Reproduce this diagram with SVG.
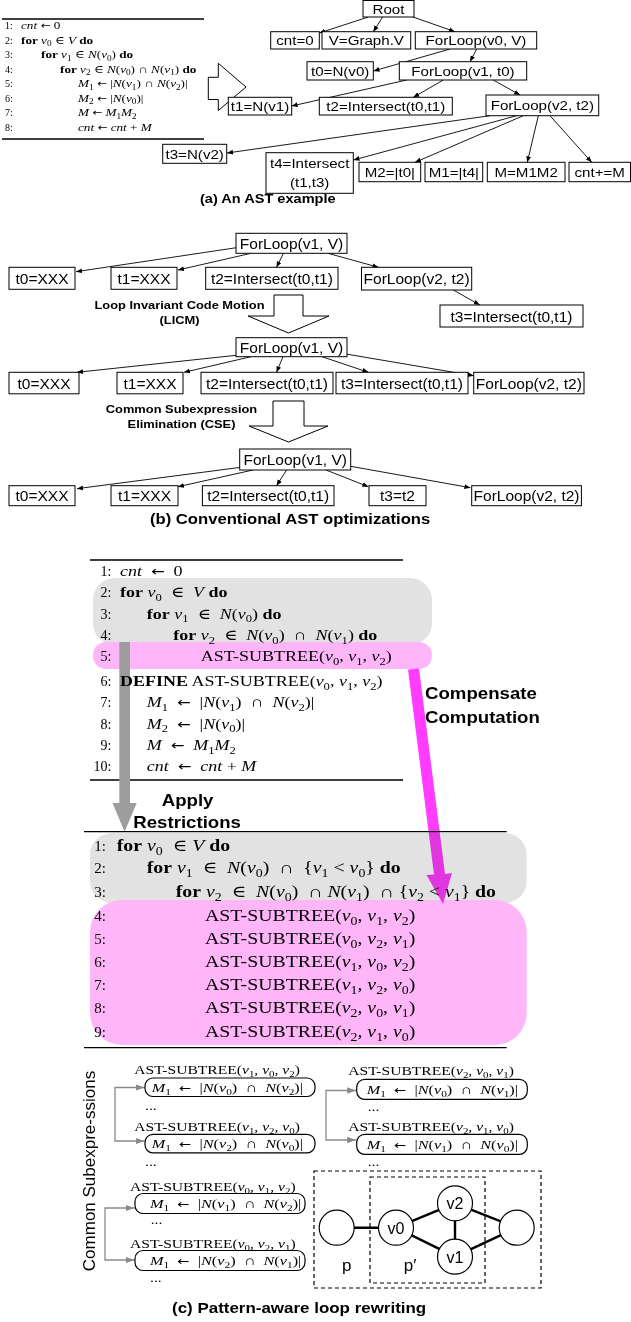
<svg xmlns="http://www.w3.org/2000/svg" width="631" height="1322" viewBox="0 0 631 1322">
<defs>
<style>
.box{fill:#fff;stroke:#000;stroke-width:1}
.na{font-family:"Liberation Sans",Arial,sans-serif;font-size:13.5px;text-anchor:middle;fill:#000}
.nb{font-family:"Liberation Sans",Arial,sans-serif;font-size:15.5px;text-anchor:middle;fill:#000}
.sans{font-family:"Liberation Sans",Arial,sans-serif;fill:#000}
.bold{font-weight:bold}
.alg{font-family:"Liberation Serif","DejaVu Serif",serif;fill:#000}
.i{font-style:italic}
.b{font-weight:bold}
.s{font-size:70%}
.ar{font-family:"DejaVu Sans",sans-serif;font-style:normal;font-size:90%}
.e{stroke:#000;stroke-width:0.9;fill:none;marker-end:url(#ah)}
.eg{stroke:#8a8a8a;stroke-width:1.3;fill:none;marker-end:url(#ahg)}
.hollow{fill:#fff;stroke:#000;stroke-width:1}
.rule{stroke:#000;stroke-width:1.3}
.rb{fill:#fff;stroke:#000;stroke-width:1.2}
.dash{fill:none;stroke:#000;stroke-width:1.2;stroke-dasharray:4 3}
.ge{stroke:#000;stroke-width:2.4}
.circ{fill:#fff;stroke:#000;stroke-width:1.2}
.gray{fill:#e2e2e2}
.pink{fill:#ffb6f9}
</style>
<marker id="ah" viewBox="0 0 10 10" refX="10" refY="5" markerWidth="6" markerHeight="6" markerUnits="userSpaceOnUse" orient="auto"><path d="M0,1 L10,5 L0,9 z" fill="#000"/></marker>
<marker id="ahg" viewBox="0 0 10 10" refX="10" refY="5" markerWidth="9" markerHeight="9" markerUnits="userSpaceOnUse" orient="auto"><path d="M0,1.5 L10,5 L0,8.5 z" fill="#8a8a8a"/></marker>
</defs>
<rect width="631" height="1322" fill="#fff"/>

<!-- (a) algorithm -->
<g id="algo-a">
<line class="rule" x1="2" y1="19" x2="204" y2="19" stroke="#555"/>
<line class="rule" x1="2" y1="139" x2="204" y2="139"/>
<g class="alg" font-size="10">
<text x="5" y="29">1:</text><text x="5" y="43.5">2:</text><text x="5" y="58">3:</text><text x="5" y="72.5">4:</text><text x="5" y="87">5:</text><text x="5" y="101.5">6:</text><text x="5" y="116">7:</text><text x="5" y="130.5">8:</text>
</g>
<g class="alg" font-size="11">
<text transform="translate(21,29) scale(1.2,1)"><tspan class="i">cnt</tspan> <tspan class="ar">←</tspan> 0</text>
<text transform="translate(21,43.5) scale(1.2,1)"><tspan class="b">for</tspan> <tspan class="i">v</tspan><tspan class="s" dy="2.5">0</tspan><tspan dy="-2.5"> ∈ </tspan><tspan class="i">V</tspan> <tspan class="b">do</tspan></text>
<text transform="translate(41,58) scale(1.2,1)"><tspan class="b">for</tspan> <tspan class="i">v</tspan><tspan class="s" dy="2.5">1</tspan><tspan dy="-2.5"> ∈ </tspan><tspan class="i">N</tspan>(<tspan class="i">v</tspan><tspan class="s" dy="2.5">0</tspan><tspan dy="-2.5">) </tspan><tspan class="b">do</tspan></text>
<text transform="translate(60,72.5) scale(1.2,1)"><tspan class="b">for</tspan> <tspan class="i">v</tspan><tspan class="s" dy="2.5">2</tspan><tspan dy="-2.5"> ∈ </tspan><tspan class="i">N</tspan>(<tspan class="i">v</tspan><tspan class="s" dy="2.5">0</tspan><tspan dy="-2.5">) ∩ </tspan><tspan class="i">N</tspan>(<tspan class="i">v</tspan><tspan class="s" dy="2.5">1</tspan><tspan dy="-2.5">) </tspan><tspan class="b">do</tspan></text>
<text transform="translate(78,87) scale(1.2,1)"><tspan class="i">M</tspan><tspan class="s" dy="2.5">1</tspan><tspan dy="-2.5"> </tspan><tspan class="ar">←</tspan> |<tspan class="i">N</tspan>(<tspan class="i">v</tspan><tspan class="s" dy="2.5">1</tspan><tspan dy="-2.5">) ∩ </tspan><tspan class="i">N</tspan>(<tspan class="i">v</tspan><tspan class="s" dy="2.5">2</tspan><tspan dy="-2.5">)|</tspan></text>
<text transform="translate(78,101.5) scale(1.2,1)"><tspan class="i">M</tspan><tspan class="s" dy="2.5">2</tspan><tspan dy="-2.5"> </tspan><tspan class="ar">←</tspan> |<tspan class="i">N</tspan>(<tspan class="i">v</tspan><tspan class="s" dy="2.5">0</tspan><tspan dy="-2.5">)|</tspan></text>
<text transform="translate(78,116) scale(1.2,1)"><tspan class="i">M</tspan> <tspan class="ar">←</tspan> <tspan class="i">M</tspan><tspan class="s" dy="2.5">1</tspan><tspan class="i" dy="-2.5">M</tspan><tspan class="s" dy="2.5">2</tspan></text>
<text transform="translate(78,130.5) scale(1.2,1)"><tspan class="i">cnt</tspan> <tspan class="ar">←</tspan> <tspan class="i">cnt</tspan> + <tspan class="i">M</tspan></text>
</g>
<polygon class="hollow" points="208.3,77.3 218.3,77.3 218.3,63.3 246,87 218.3,110.5 218.3,99.5 208.3,99.5"/>
</g>

<!-- (c) backgrounds -->
<g id="highlights">
<rect class="gray" x="93" y="578" width="339" height="67" rx="22"/>
<rect class="pink" x="93" y="642" width="339" height="27" rx="13"/>
<rect class="gray" x="90" y="833" width="436.7" height="70" rx="22"/>
<rect class="pink" x="90" y="900" width="436.7" height="145" rx="32"/>
</g>

<g id="connectors">
<!-- (a) -->
<line class="e" x1="368.3" y1="17" x2="319.3" y2="33"/>
<line class="e" x1="382.7" y1="17" x2="373.3" y2="31.7"/>
<line class="e" x1="413" y1="17" x2="455" y2="31.7"/>
<line class="e" x1="450" y1="49" x2="373.5" y2="71"/>
<line class="e" x1="476.7" y1="49" x2="470" y2="61.7"/>
<line class="e" x1="406.7" y1="80" x2="291.7" y2="106"/>
<line class="e" x1="443.3" y1="80" x2="413.3" y2="97.3"/>
<line class="e" x1="493.3" y1="80" x2="520" y2="95"/>
<line class="e" x1="490" y1="115.7" x2="227" y2="153"/>
<line class="e" x1="516.7" y1="115.7" x2="353.5" y2="160"/>
<line class="e" x1="523.3" y1="115.7" x2="415" y2="162.3"/>
<line class="e" x1="538.3" y1="115.7" x2="527.3" y2="162.3"/>
<line class="e" x1="550" y1="115.7" x2="591.7" y2="162.3"/>
<!-- (b) tree 1 -->
<line class="e" x1="239" y1="247.3" x2="76" y2="271.7"/>
<line class="e" x1="251" y1="253.3" x2="178" y2="270"/>
<line class="e" x1="283.4" y1="253.3" x2="276.5" y2="267.3"/>
<line class="e" x1="328" y1="253.3" x2="378.5" y2="267.3"/>
<line class="e" x1="453.4" y1="290" x2="479.8" y2="305"/>
<!-- (b) tree 2 -->
<line class="e" x1="239" y1="355" x2="77" y2="372.3"/>
<line class="e" x1="251" y1="356.7" x2="184" y2="372.3"/>
<line class="e" x1="283" y1="356.7" x2="276.5" y2="372.3"/>
<line class="e" x1="322" y1="356.7" x2="368.4" y2="372.3"/>
<line class="e" x1="346" y1="354" x2="473.7" y2="375.7"/>
<!-- (b) tree 3 -->
<line class="e" x1="243" y1="467" x2="77" y2="488.7"/>
<line class="e" x1="253" y1="470" x2="178" y2="486.7"/>
<line class="e" x1="286.6" y1="470" x2="276.5" y2="485.7"/>
<line class="e" x1="326" y1="470" x2="368.4" y2="486.7"/>
<line class="e" x1="349" y1="466" x2="470.4" y2="487.7"/>
<!-- (c) common subexpression links -->
<path class="eg" d="M115,1114 V1087.5 H144.5"/>
<path class="eg" d="M115,1114 V1141 H144.5"/>
<path class="eg" d="M105,1234 V1208 H134.5"/>
<path class="eg" d="M105,1234 V1260 H134.5"/>
<path class="eg" d="M326,1115 V1090.5 H356.2"/>
<path class="eg" d="M326,1115 V1140 H356.2"/>
</g>

<g id="nodes-a">
<g id="n-root"><rect class="box" x="363" y="0.5" width="51" height="16.5"/><text class="na" transform="translate(388.5,13.5) scale(1.12,1)">Root</text></g>
<g id="n-cnt0"><rect class="box" x="270.7" y="31.7" width="48.6" height="17.3"/><text class="na" transform="translate(295,45.2) scale(1.12,1)">cnt=0</text></g>
<g id="n-vgraph"><rect class="box" x="322" y="31.7" width="88.7" height="17.3"/><text class="na" transform="translate(366.35,45.2) scale(1.12,1)">V=Graph.V</text></g>
<g id="n-forv0"><rect class="box" x="415.3" y="31.7" width="121.4" height="17.3"/><text class="na" transform="translate(476,45.2) scale(1.12,1)">ForLoop(v0, V)</text></g>
<g id="n-t0"><rect class="box" x="307" y="61.7" width="66.3" height="18.3"/><text class="na" transform="translate(340.15,75.7) scale(1.12,1)">t0=N(v0)</text></g>
<g id="n-forv1"><rect class="box" x="399.3" y="61.7" width="127.4" height="18.3"/><text class="na" transform="translate(463,75.7) scale(1.12,1)">ForLoop(v1, t0)</text></g>
<g id="n-t1"><rect class="box" x="228.3" y="97.3" width="63.4" height="17.7"/><text class="na" transform="translate(260,111) scale(1.12,1)">t1=N(v1)</text></g>
<g id="n-t2"><rect class="box" x="319.3" y="97.3" width="133" height="17.7"/><text class="na" transform="translate(385.8,111) scale(1.12,1)">t2=Intersect(t0,t1)</text></g>
<g id="n-forv2"><rect class="box" x="486" y="95" width="112.7" height="20.7"/><text class="na" transform="translate(542.35,110.2) scale(1.12,1)">ForLoop(v2, t2)</text></g>
<g id="n-t3"><rect class="box" x="162.7" y="144.3" width="64" height="19"/><text class="na" transform="translate(194.7,158.7) scale(1.12,1)">t3=N(v2)</text></g>
<g id="n-t4"><rect class="box" x="266" y="152.7" width="87.3" height="40.6"/><text class="na" transform="translate(309.65,168) scale(1.12,1)">t4=Intersect</text><text class="na" transform="translate(309.65,186.5) scale(1.12,1)">(t1,t3)</text></g>
<g id="n-m2"><rect class="box" x="359" y="162.3" width="61.7" height="19.4"/><text class="na" transform="translate(389.85,176.9) scale(1.12,1)">M2=|t0|</text></g>
<g id="n-m1"><rect class="box" x="425" y="162.3" width="57.7" height="19.4"/><text class="na" transform="translate(453.85,176.9) scale(1.12,1)">M1=|t4|</text></g>
<g id="n-m"><rect class="box" x="487.3" y="162.3" width="77.7" height="19.4"/><text class="na" transform="translate(526.15,176.9) scale(1.12,1)">M=M1M2</text></g>
<g id="n-cntm"><rect class="box" x="569" y="162.3" width="61.5" height="19.4"/><text class="na" transform="translate(599.75,176.9) scale(1.12,1)">cnt+=M</text></g>
<text class="sans bold" font-size="13" transform="translate(200,203) scale(1.12,1)">(a) An AST example</text>
</g>

<g id="nodes-b">
<g id="b1-root"><rect class="box" x="236" y="233.3" width="111" height="20"/><text class="nb" x="291.5" y="248.9">ForLoop(v1, V)</text></g>
<g id="b1-t0"><rect class="box" x="9" y="267.3" width="66" height="22"/><text class="nb" x="42" y="283.9">t0=XXX</text></g>
<g id="b1-t1"><rect class="box" x="111" y="267.3" width="66" height="22"/><text class="nb" x="144" y="283.9">t1=XXX</text></g>
<g id="b1-t2"><rect class="box" x="205.7" y="267.3" width="132.3" height="22"/><text class="nb" x="271.85" y="283.9">t2=Intersect(t0,t1)</text></g>
<g id="b1-for"><rect class="box" x="361.5" y="267.3" width="110.2" height="22.7"/><text class="nb" x="416.6" y="283.9">ForLoop(v2, t2)</text></g>
<g id="b1-t3"><rect class="box" x="440" y="305" width="143" height="22"/><text class="nb" x="511.5" y="321.5">t3=Intersect(t0,t1)</text></g>

<g id="licm-arrow"><polygon class="hollow" points="274,295 303,295 303,316 329,316 288.5,333 248,316 274,316"/>
<text class="sans bold" font-size="11.5" text-anchor="middle" transform="translate(179.5,308.5) scale(1.12,1)">Loop Invariant Code Motion</text>
<text class="sans bold" font-size="11.5" text-anchor="middle" transform="translate(179.5,324) scale(1.12,1)">(LICM)</text></g>

<g id="b2-root"><rect class="box" x="236" y="337.7" width="111" height="19"/><text class="nb" x="291.5" y="352.8">ForLoop(v1, V)</text></g>
<g id="b2-t0"><rect class="box" x="9" y="372.3" width="70" height="21.5"/><text class="nb" x="44" y="388.6">t0=XXX</text></g>
<g id="b2-t1"><rect class="box" x="117" y="372.3" width="66" height="21.5"/><text class="nb" x="150" y="388.6">t1=XXX</text></g>
<g id="b2-t2"><rect class="box" x="201" y="372.3" width="132" height="21.5"/><text class="nb" x="267" y="388.6">t2=Intersect(t0,t1)</text></g>
<g id="b2-t3"><rect class="box" x="336" y="372.3" width="132" height="21.5"/><text class="nb" x="402" y="388.6">t3=Intersect(t0,t1)</text></g>
<g id="b2-for"><rect class="box" x="473.7" y="372.3" width="110.3" height="21.5"/><text class="nb" x="528.85" y="388.6">ForLoop(v2, t2)</text></g>

<g id="cse-arrow"><polygon class="hollow" points="273,401 304,401 304,426 328,426 288.5,442 249,426 273,426"/>
<text class="sans bold" font-size="11.5" text-anchor="middle" transform="translate(181.5,412.5) scale(1.12,1)">Common Subexpression</text>
<text class="sans bold" font-size="11.5" text-anchor="middle" transform="translate(181.5,427.5) scale(1.12,1)">Elimination (CSE)</text></g>

<g id="b3-root"><rect class="box" x="239.7" y="449" width="111" height="21"/><text class="nb" x="295.2" y="465">ForLoop(v1, V)</text></g>
<g id="b3-t0"><rect class="box" x="9" y="485.7" width="66" height="20"/><text class="nb" x="42" y="501.2">t0=XXX</text></g>
<g id="b3-t1"><rect class="box" x="111" y="485.7" width="67" height="20"/><text class="nb" x="144.5" y="501.2">t1=XXX</text></g>
<g id="b3-t2"><rect class="box" x="202.4" y="485.7" width="131.6" height="20"/><text class="nb" x="268.2" y="501.2">t2=Intersect(t0,t1)</text></g>
<g id="b3-t3"><rect class="box" x="369" y="485.7" width="57" height="20"/><text class="nb" x="397.5" y="501.2">t3=t2</text></g>
<g id="b3-for"><rect class="box" x="471.7" y="485.7" width="109.7" height="20"/><text class="nb" x="526.55" y="501.2">ForLoop(v2, t2)</text></g>
<text class="sans bold" font-size="15" transform="translate(150,524) scale(1.11,1)">(b) Conventional AST optimizations</text>
</g>

<!-- (c) algorithm 1 -->
<g id="algo-c1">
<line class="rule" x1="90" y1="560" x2="403" y2="560"/>
<line class="rule" x1="90" y1="780" x2="403" y2="780"/>
<polygon points="119.3,642 130,642 130,803 136.7,803 124.6,831.7 112.5,803 119.3,803" fill="#9d9d9d"/>
<g class="alg" font-size="14" text-anchor="end">
<text x="111.5" y="576">1:</text><text x="111.5" y="597">2:</text><text x="111.5" y="618.5">3:</text><text x="111.5" y="640">4:</text><text x="111.5" y="661">5:</text><text x="111.5" y="686">6:</text><text x="111.5" y="707">7:</text><text x="111.5" y="728.5">8:</text><text x="111.5" y="750">9:</text><text x="111.5" y="771">10:</text>
</g>
<g class="alg" font-size="15">
<text transform="translate(120,576) scale(1.2,1)"><tspan class="i">cnt</tspan> &#160;<tspan class="ar">←</tspan>&#160; 0</text>
<text transform="translate(120,597) scale(1.2,1)"><tspan class="b">for</tspan> <tspan class="i">v</tspan><tspan class="s" dy="3.5">0</tspan><tspan dy="-3.5"> &#160;∈&#160; </tspan><tspan class="i">V</tspan> <tspan class="b">do</tspan></text>
<text transform="translate(146.7,618.5) scale(1.2,1)"><tspan class="b">for</tspan> <tspan class="i">v</tspan><tspan class="s" dy="3.5">1</tspan><tspan dy="-3.5"> &#160;∈&#160; </tspan><tspan class="i">N</tspan>(<tspan class="i">v</tspan><tspan class="s" dy="3.5">0</tspan><tspan dy="-3.5">) </tspan><tspan class="b">do</tspan></text>
<text transform="translate(173.3,640) scale(1.2,1)"><tspan class="b">for</tspan> <tspan class="i">v</tspan><tspan class="s" dy="3.5">2</tspan><tspan dy="-3.5"> &#160;∈&#160; </tspan><tspan class="i">N</tspan>(<tspan class="i">v</tspan><tspan class="s" dy="3.5">0</tspan><tspan dy="-3.5">) &#160;∩&#160; </tspan><tspan class="i">N</tspan>(<tspan class="i">v</tspan><tspan class="s" dy="3.5">1</tspan><tspan dy="-3.5">) </tspan><tspan class="b">do</tspan></text>
<text transform="translate(200.7,661) scale(1.2,1)">AST-SUBTREE(<tspan class="i">v</tspan><tspan class="s" dy="3.5">0</tspan><tspan dy="-3.5">, </tspan><tspan class="i">v</tspan><tspan class="s" dy="3.5">1</tspan><tspan dy="-3.5">, </tspan><tspan class="i">v</tspan><tspan class="s" dy="3.5">2</tspan><tspan dy="-3.5">)</tspan></text>
<text transform="translate(120,686) scale(1.2,1)"><tspan class="b">DEFINE</tspan> AST-SUBTREE(<tspan class="i">v</tspan><tspan class="s" dy="3.5">0</tspan><tspan dy="-3.5">, </tspan><tspan class="i">v</tspan><tspan class="s" dy="3.5">1</tspan><tspan dy="-3.5">, </tspan><tspan class="i">v</tspan><tspan class="s" dy="3.5">2</tspan><tspan dy="-3.5">)</tspan></text>
<text transform="translate(146.7,707) scale(1.2,1)"><tspan class="i">M</tspan><tspan class="s" dy="3.5">1</tspan><tspan dy="-3.5"> &#160;</tspan><tspan class="ar">←</tspan>&#160; |<tspan class="i">N</tspan>(<tspan class="i">v</tspan><tspan class="s" dy="3.5">1</tspan><tspan dy="-3.5">) &#160;∩&#160; </tspan><tspan class="i">N</tspan>(<tspan class="i">v</tspan><tspan class="s" dy="3.5">2</tspan><tspan dy="-3.5">)|</tspan></text>
<text transform="translate(146.7,728.5) scale(1.2,1)"><tspan class="i">M</tspan><tspan class="s" dy="3.5">2</tspan><tspan dy="-3.5"> &#160;</tspan><tspan class="ar">←</tspan>&#160; |<tspan class="i">N</tspan>(<tspan class="i">v</tspan><tspan class="s" dy="3.5">0</tspan><tspan dy="-3.5">)|</tspan></text>
<text transform="translate(146.7,750) scale(1.2,1)"><tspan class="i">M</tspan> &#160;<tspan class="ar">←</tspan>&#160; <tspan class="i">M</tspan><tspan class="s" dy="3.5">1</tspan><tspan class="i" dy="-3.5">M</tspan><tspan class="s" dy="3.5">2</tspan></text>
<text transform="translate(146.7,771) scale(1.2,1)"><tspan class="i">cnt</tspan> &#160;<tspan class="ar">←</tspan>&#160; <tspan class="i">cnt</tspan> + <tspan class="i">M</tspan></text>
</g>
<text class="sans bold" font-size="16.5" transform="translate(161.7,806) scale(1.13,1)">Apply</text>
<text class="sans bold" font-size="16.5" transform="translate(133.3,828) scale(1.13,1)">Restrictions</text>
<text class="sans bold" font-size="16.5" transform="translate(425,699) scale(1.13,1)">Compensate</text>
<text class="sans bold" font-size="16.5" transform="translate(425,723) scale(1.13,1)">Computation</text>
</g>

<!-- (c) algorithm 2 -->
<g id="algo-c2">
<line class="rule" x1="84" y1="831.7" x2="506.7" y2="831.7" stroke-width="1.5"/>
<line class="rule" x1="84" y1="1047.7" x2="506.7" y2="1047.7" stroke="#555" stroke-width="2"/>
<g class="alg" font-size="15" text-anchor="end">
<text x="106" y="850.5">1:</text><text x="106" y="873">2:</text><text x="106" y="897">3:</text><text x="106" y="920.5">4:</text><text x="106" y="944">5:</text><text x="106" y="967">6:</text><text x="106" y="990">7:</text><text x="106" y="1013">8:</text><text x="106" y="1036.5">9:</text>
</g>
<g class="alg" font-size="16.5">
<text transform="translate(116.7,850.5) scale(1.2,1)"><tspan class="b">for</tspan> <tspan class="i">v</tspan><tspan class="s" dy="4">0</tspan><tspan dy="-4"> &#160;∈ </tspan><tspan class="i">V</tspan> <tspan class="b">do</tspan></text>
<text transform="translate(146.7,873) scale(1.2,1)"><tspan class="b">for</tspan> <tspan class="i">v</tspan><tspan class="s" dy="4">1</tspan><tspan dy="-4"> &#160;∈&#160; </tspan><tspan class="i">N</tspan>(<tspan class="i">v</tspan><tspan class="s" dy="4">0</tspan><tspan dy="-4">) &#160;∩&#160; {</tspan><tspan class="i">v</tspan><tspan class="s" dy="4">1</tspan><tspan dy="-4"> &lt; </tspan><tspan class="i">v</tspan><tspan class="s" dy="4">0</tspan><tspan dy="-4">} </tspan><tspan class="b">do</tspan></text>
<text transform="translate(175.7,897) scale(1.2,1)"><tspan class="b">for</tspan> <tspan class="i">v</tspan><tspan class="s" dy="4">2</tspan><tspan dy="-4"> &#160;∈&#160; </tspan><tspan class="i">N</tspan>(<tspan class="i">v</tspan><tspan class="s" dy="4">0</tspan><tspan dy="-4">) &#160;∩ </tspan><tspan class="i">N</tspan>(<tspan class="i">v</tspan><tspan class="s" dy="4">1</tspan><tspan dy="-4">) &#160;∩ {</tspan><tspan class="i">v</tspan><tspan class="s" dy="4">2</tspan><tspan dy="-4"> &lt; </tspan><tspan class="i">v</tspan><tspan class="s" dy="4">1</tspan><tspan dy="-4">} </tspan><tspan class="b">do</tspan></text>
<text transform="translate(205,920.5) scale(1.2,1)">AST-SUBTREE(<tspan class="i">v</tspan><tspan class="s" dy="4">0</tspan><tspan dy="-4">, </tspan><tspan class="i">v</tspan><tspan class="s" dy="4">1</tspan><tspan dy="-4">, </tspan><tspan class="i">v</tspan><tspan class="s" dy="4">2</tspan><tspan dy="-4">)</tspan></text>
<text transform="translate(205,944) scale(1.2,1)">AST-SUBTREE(<tspan class="i">v</tspan><tspan class="s" dy="4">0</tspan><tspan dy="-4">, </tspan><tspan class="i">v</tspan><tspan class="s" dy="4">2</tspan><tspan dy="-4">, </tspan><tspan class="i">v</tspan><tspan class="s" dy="4">1</tspan><tspan dy="-4">)</tspan></text>
<text transform="translate(205,967) scale(1.2,1)">AST-SUBTREE(<tspan class="i">v</tspan><tspan class="s" dy="4">1</tspan><tspan dy="-4">, </tspan><tspan class="i">v</tspan><tspan class="s" dy="4">0</tspan><tspan dy="-4">, </tspan><tspan class="i">v</tspan><tspan class="s" dy="4">2</tspan><tspan dy="-4">)</tspan></text>
<text transform="translate(205,990) scale(1.2,1)">AST-SUBTREE(<tspan class="i">v</tspan><tspan class="s" dy="4">1</tspan><tspan dy="-4">, </tspan><tspan class="i">v</tspan><tspan class="s" dy="4">2</tspan><tspan dy="-4">, </tspan><tspan class="i">v</tspan><tspan class="s" dy="4">0</tspan><tspan dy="-4">)</tspan></text>
<text transform="translate(205,1013) scale(1.2,1)">AST-SUBTREE(<tspan class="i">v</tspan><tspan class="s" dy="4">2</tspan><tspan dy="-4">, </tspan><tspan class="i">v</tspan><tspan class="s" dy="4">0</tspan><tspan dy="-4">, </tspan><tspan class="i">v</tspan><tspan class="s" dy="4">1</tspan><tspan dy="-4">)</tspan></text>
<text transform="translate(205,1036.5) scale(1.2,1)">AST-SUBTREE(<tspan class="i">v</tspan><tspan class="s" dy="4">2</tspan><tspan dy="-4">, </tspan><tspan class="i">v</tspan><tspan class="s" dy="4">1</tspan><tspan dy="-4">, </tspan><tspan class="i">v</tspan><tspan class="s" dy="4">0</tspan><tspan dy="-4">)</tspan></text>
</g>
</g>

<g id="compensate-arrow">
<polygon points="408,669.5 419,668.5 445,874 452,873 443,904 426.5,875 434,874.5" fill="#ff3cff" style="mix-blend-mode:multiply"/>
</g>

<!-- (c) common subexpressions -->
<g id="common-subexpr">
<text class="sans" font-size="17" text-anchor="middle" transform="translate(95,1171) rotate(-90)">Common Subexpre-ssions</text>
<g class="alg" font-size="13">
<g id="cs1">
<text transform="translate(134.3,1074) scale(1.2,1)">AST-SUBTREE(<tspan class="i">v</tspan><tspan class="s" dy="3">1</tspan><tspan dy="-3">, </tspan><tspan class="i">v</tspan><tspan class="s" dy="3">0</tspan><tspan dy="-3">, </tspan><tspan class="i">v</tspan><tspan class="s" dy="3">2</tspan><tspan dy="-3">)</tspan></text>
<rect class="rb" x="145" y="1078" width="170" height="18.5" rx="8"/>
<text transform="translate(151.7,1091.5) scale(1.25,1)"><tspan class="i">M</tspan><tspan class="s" dy="3">1</tspan><tspan dy="-3"> &#160;</tspan><tspan class="ar">←</tspan>&#160; |<tspan class="i">N</tspan>(<tspan class="i">v</tspan><tspan class="s" dy="3">0</tspan><tspan dy="-3">) &#160;∩&#160; </tspan><tspan class="i">N</tspan>(<tspan class="i">v</tspan><tspan class="s" dy="3">2</tspan><tspan dy="-3">)|</tspan></text>
<text transform="translate(145,1110) scale(1.2,1)">...</text>
</g>
<g id="cs2">
<text transform="translate(134.3,1130.5) scale(1.2,1)">AST-SUBTREE(<tspan class="i">v</tspan><tspan class="s" dy="3">1</tspan><tspan dy="-3">, </tspan><tspan class="i">v</tspan><tspan class="s" dy="3">2</tspan><tspan dy="-3">, </tspan><tspan class="i">v</tspan><tspan class="s" dy="3">0</tspan><tspan dy="-3">)</tspan></text>
<rect class="rb" x="145" y="1134.3" width="170" height="18.5" rx="8"/>
<text transform="translate(151.7,1148) scale(1.25,1)"><tspan class="i">M</tspan><tspan class="s" dy="3">1</tspan><tspan dy="-3"> &#160;</tspan><tspan class="ar">←</tspan>&#160; |<tspan class="i">N</tspan>(<tspan class="i">v</tspan><tspan class="s" dy="3">2</tspan><tspan dy="-3">) &#160;∩&#160; </tspan><tspan class="i">N</tspan>(<tspan class="i">v</tspan><tspan class="s" dy="3">0</tspan><tspan dy="-3">)|</tspan></text>
<text transform="translate(145,1166) scale(1.2,1)">...</text>
</g>
<g id="cs3">
<text transform="translate(130,1191) scale(1.2,1)">AST-SUBTREE(<tspan class="i">v</tspan><tspan class="s" dy="3">0</tspan><tspan dy="-3">, </tspan><tspan class="i">v</tspan><tspan class="s" dy="3">1</tspan><tspan dy="-3">, </tspan><tspan class="i">v</tspan><tspan class="s" dy="3">2</tspan><tspan dy="-3">)</tspan></text>
<rect class="rb" x="135" y="1193.5" width="170" height="20" rx="8"/>
<text transform="translate(150,1207.5) scale(1.25,1)"><tspan class="i">M</tspan><tspan class="s" dy="3">1</tspan><tspan dy="-3"> &#160;</tspan><tspan class="ar">←</tspan>&#160; |<tspan class="i">N</tspan>(<tspan class="i">v</tspan><tspan class="s" dy="3">1</tspan><tspan dy="-3">) &#160;∩&#160; </tspan><tspan class="i">N</tspan>(<tspan class="i">v</tspan><tspan class="s" dy="3">2</tspan><tspan dy="-3">)|</tspan></text>
<text transform="translate(150.7,1224) scale(1.2,1)">...</text>
</g>
<g id="cs4">
<text transform="translate(130,1248) scale(1.2,1)">AST-SUBTREE(<tspan class="i">v</tspan><tspan class="s" dy="3">0</tspan><tspan dy="-3">, </tspan><tspan class="i">v</tspan><tspan class="s" dy="3">2</tspan><tspan dy="-3">, </tspan><tspan class="i">v</tspan><tspan class="s" dy="3">1</tspan><tspan dy="-3">)</tspan></text>
<rect class="rb" x="135" y="1250.5" width="170" height="20" rx="8"/>
<text transform="translate(150,1264.5) scale(1.25,1)"><tspan class="i">M</tspan><tspan class="s" dy="3">1</tspan><tspan dy="-3"> &#160;</tspan><tspan class="ar">←</tspan>&#160; |<tspan class="i">N</tspan>(<tspan class="i">v</tspan><tspan class="s" dy="3">2</tspan><tspan dy="-3">) &#160;∩&#160; </tspan><tspan class="i">N</tspan>(<tspan class="i">v</tspan><tspan class="s" dy="3">1</tspan><tspan dy="-3">)|</tspan></text>
<text transform="translate(150,1282) scale(1.2,1)">...</text>
</g>
<g id="cs5">
<text transform="translate(348.3,1075) scale(1.2,1)">AST-SUBTREE(<tspan class="i">v</tspan><tspan class="s" dy="3">2</tspan><tspan dy="-3">, </tspan><tspan class="i">v</tspan><tspan class="s" dy="3">0</tspan><tspan dy="-3">, </tspan><tspan class="i">v</tspan><tspan class="s" dy="3">1</tspan><tspan dy="-3">)</tspan></text>
<rect class="rb" x="356.7" y="1079.3" width="170.6" height="20" rx="8"/>
<text transform="translate(366.7,1094) scale(1.25,1)"><tspan class="i">M</tspan><tspan class="s" dy="3">1</tspan><tspan dy="-3"> &#160;</tspan><tspan class="ar">←</tspan>&#160; |<tspan class="i">N</tspan>(<tspan class="i">v</tspan><tspan class="s" dy="3">0</tspan><tspan dy="-3">) &#160;∩&#160; </tspan><tspan class="i">N</tspan>(<tspan class="i">v</tspan><tspan class="s" dy="3">1</tspan><tspan dy="-3">)|</tspan></text>
<text transform="translate(367.7,1111) scale(1.2,1)">...</text>
</g>
<g id="cs6">
<text transform="translate(348.3,1130.5) scale(1.2,1)">AST-SUBTREE(<tspan class="i">v</tspan><tspan class="s" dy="3">2</tspan><tspan dy="-3">, </tspan><tspan class="i">v</tspan><tspan class="s" dy="3">1</tspan><tspan dy="-3">, </tspan><tspan class="i">v</tspan><tspan class="s" dy="3">0</tspan><tspan dy="-3">)</tspan></text>
<rect class="rb" x="356.7" y="1134.3" width="170.6" height="20" rx="8"/>
<text transform="translate(366.7,1149) scale(1.25,1)"><tspan class="i">M</tspan><tspan class="s" dy="3">1</tspan><tspan dy="-3"> &#160;</tspan><tspan class="ar">←</tspan>&#160; |<tspan class="i">N</tspan>(<tspan class="i">v</tspan><tspan class="s" dy="3">1</tspan><tspan dy="-3">) &#160;∩&#160; </tspan><tspan class="i">N</tspan>(<tspan class="i">v</tspan><tspan class="s" dy="3">0</tspan><tspan dy="-3">)|</tspan></text>
<text transform="translate(367.7,1166) scale(1.2,1)">...</text>
</g>
</g>
</g>

<!-- (c) pattern graph -->
<g id="pattern-graph">
<rect class="dash" x="314" y="1171" width="227" height="117"/>
<rect class="dash" x="370" y="1177" width="115" height="106"/>
<line class="ge" x1="336.7" y1="1227.7" x2="396" y2="1227.7"/>
<line class="ge" x1="396" y1="1227.7" x2="455" y2="1203.3"/>
<line class="ge" x1="396" y1="1227.7" x2="455" y2="1256.7"/>
<line class="ge" x1="455" y1="1203.3" x2="455" y2="1256.7"/>
<line class="ge" x1="455" y1="1203.3" x2="516.7" y2="1227.7"/>
<line class="ge" x1="455" y1="1256.7" x2="516.7" y2="1227.7"/>
<g id="c-left"><circle class="circ" cx="336.7" cy="1227.7" r="17.5"/></g>
<g id="c-v0"><circle class="circ" cx="396" cy="1227.7" r="17.5"/><text class="sans" font-size="16" text-anchor="middle" x="396" y="1233.5">v0</text></g>
<g id="c-v2"><circle class="circ" cx="455" cy="1203.3" r="17.5"/><text class="sans" font-size="16" text-anchor="middle" x="455" y="1209">v2</text></g>
<g id="c-v1"><circle class="circ" cx="455" cy="1256.7" r="17.5"/><text class="sans" font-size="16" text-anchor="middle" x="455" y="1262.5">v1</text></g>
<g id="c-right"><circle class="circ" cx="516.7" cy="1227.7" r="17.5"/></g>
<text class="sans" font-size="17" text-anchor="middle" x="346.7" y="1271">p</text>
<text class="sans" font-size="17" text-anchor="middle" x="410" y="1271">p′</text>
</g>

<text class="sans bold" font-size="15" transform="translate(172,1313) scale(1.13,1)">(c) Pattern-aware loop rewriting</text>
</svg>
